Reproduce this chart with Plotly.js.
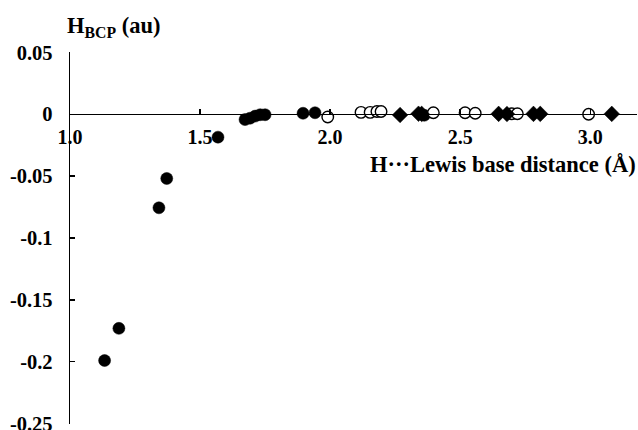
<!DOCTYPE html>
<html>
<head>
<meta charset="utf-8">
<script src="https://cdn.plot.ly/plotly-3.0.1.min.js"></script>
<style>html,body{margin:0;padding:0;background:#fff;}#chart{width:638px;height:430px;}</style>
</head>
<body>
<div id="chart"></div>
<script>
// Filled circles
const filledX = [1.133, 1.188, 1.342, 1.372, 1.569, 1.673, 1.692, 1.712, 1.731, 1.750, 1.896, 1.942, 2.362];
const filledY = [-0.199, -0.173, -0.0756, -0.0519, -0.0185, -0.0043, -0.0032, -0.0015, -0.0004, -0.0004, 0.0008, 0.0012, -0.0008];
// Open circles
const openX = [1.991, 2.119, 2.154, 2.180, 2.196, 2.397, 2.519, 2.558, 2.699, 2.720, 2.994];
const openY = [-0.0022, 0.0015, 0.0015, 0.0022, 0.0022, 0.0012, 0.0012, 0.0008, 0.0004, 0.0004, 0.0];
// Filled diamonds
const diamondX = [2.269, 2.340, 2.352, 2.648, 2.680, 2.782, 2.808, 3.083];
const diamondY = [-0.0006, 0.0004, 0.0003, 0.0003, 0.0002, 0.0003, 0.0003, 0.0003];

const xTickVals = [1.0, 1.5, 2.0, 2.5, 3.0];
const xTickText = ["1.0", "1.5", "2.0", "2.5", "3.0"];
const yTickVals = [0.05, 0, -0.05, -0.1, -0.15, -0.2, -0.25];
const yTickText = ["0.05", "0", "-0.05", "-0.1", "-0.15", "-0.2", "-0.25"];

const yTitle = "H<sub>BCP</sub> (au)";
const xTitle = "H\u00B7\u00B7\u00B7Lewis base distance (\u00C5)";

const FONT = "Liberation Serif, Times New Roman, serif";

const traces = [
  {x: filledX, y: filledY, type: "scatter", mode: "markers", cliponaxis: false,
   marker: {symbol: "circle", size: 12, color: "#000", line: {color: "#000", width: 0.5}}},
  {x: openX, y: openY, type: "scatter", mode: "markers", cliponaxis: false,
   marker: {symbol: "circle", size: 11.5, color: "#fff", line: {color: "#000", width: 1.4}}},
  {x: diamondX, y: diamondY, type: "scatter", mode: "markers", cliponaxis: false,
   marker: {symbol: "diamond", size: 12, color: "#000", line: {color: "#000", width: 0.5}}}
];

const layout = {
  width: 638, height: 430,
  margin: {l: 70, r: 1, t: 52, b: 6},
  paper_bgcolor: "#fff", plot_bgcolor: "#fff",
  showlegend: false,
  font: {family: FONT, color: "#000", size: 20, weight: "bold"},
  title: {text: "<b>" + yTitle + "</b>", x: 67/638, xanchor: "left", y: 1 - 25/430, yanchor: "middle",
          font: {family: FONT, size: 22.5, color: "#000", weight: "bold"}},
  xaxis: {
    range: [1.0, 3.18], anchor: "free", position: 0.25/0.30,
    tickvals: xTickVals, ticktext: xTickText,
    showline: true, linecolor: "#000", linewidth: 1.3,
    ticks: "inside", ticklen: 5, tickwidth: 1.3, tickcolor: "#000",
    showgrid: false, zeroline: false,
    ticklabelstandoff: 5, ticklabeloverflow: "allow",
    tickfont: {family: FONT, size: 20, color: "#000", weight: "bold"}
  },
  yaxis: {
    range: [-0.2503, 0.0503],
    tickvals: yTickVals, ticktext: yTickText,
    showline: true, linecolor: "#000", linewidth: 1.3,
    ticks: "inside", ticklen: 5, tickwidth: 1.3, tickcolor: "#000",
    showgrid: false, zeroline: false,
    ticklabelstandoff: 12, ticklabeloverflow: "allow",
    tickfont: {family: FONT, size: 20.5, color: "#000", weight: "bold"}
  },
  annotations: [
    {text: "<b>" + xTitle + "</b>", xref: "paper", yref: "paper", x: 1.002, y: (424 - 164) / 372,
     xanchor: "right", yanchor: "middle", showarrow: false,
     font: {family: FONT, size: 22.5, color: "#000", weight: "bold"}}
  ]
};

Plotly.newPlot("chart", traces, layout, {staticPlot: true, displayModeBar: false});
</script>
</body>
</html>
